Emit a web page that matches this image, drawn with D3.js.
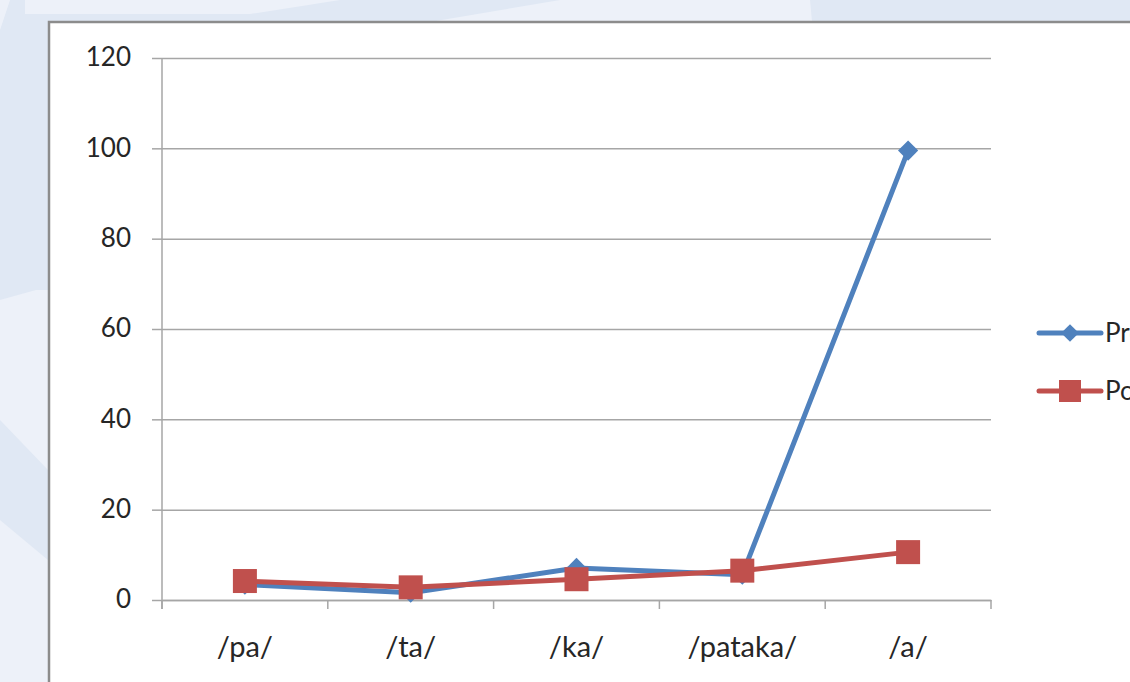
<!DOCTYPE html>
<html>
<head>
<meta charset="utf-8">
<script src="https://cdn.jsdelivr.net/npm/d3@7"></script>
<style>
  html, body { margin: 0; padding: 0; overflow: hidden; background: #e0e8f4; }
  text { font-family: Lato, "Open Sans", sans-serif; }
</style>
</head>
<body>
<div id="chart"></div>
<script>
var categories = ["/pa/", "/ta/", "/ka/", "/pataka/", "/a/"];
var preValues = [3.4, 1.6, 7.1, 5.6, 99.5];
var postValues = [4.2, 2.8, 4.6, 6.5, 10.6];
var yTicks = [0, 20, 40, 60, 80, 100, 120];
var seriesNames = ["Pre", "Post"];

var W = 1130, H = 682;
var plot = {left: 162, right: 991, top: 58, bottom: 600};

var svg = d3.select("#chart").append("svg")
    .attr("width", W)
    .attr("height", H);

// slide background shapes
var bg = svg.append("g");
bg.append("rect").attr("width", W).attr("height", H).attr("fill", "#e0e8f4");
var light = "#edf1f9";
[
  [[25, 0], [340, 0], [250, 14], [85, 14], [25, 14]],
  [[560, 0], [810, 0], [812, 22], [430, 22]],
  [[0, 300], [36, 290], [48, 290], [48, 470], [0, 420]],
  [[0, 520], [48, 560], [48, 682], [0, 682]],
  [[0, 0], [10, 0], [0, 30]]
].forEach(function(p) {
  bg.append("polygon").attr("points", p.join(" ")).attr("fill", light);
});

// chart area
svg.append("rect")
    .attr("x", 49).attr("y", 22)
    .attr("width", W).attr("height", H)
    .attr("fill", "#fff")
    .attr("stroke", "#8c8c8c")
    .attr("stroke-width", 2.5);

var x = d3.scaleBand()
    .domain(categories)
    .range([plot.left, plot.right]);

var y = d3.scaleLinear()
    .domain([0, 120])
    .range([plot.bottom, plot.top]);

// gridlines + y axis
var yAxis = svg.append("g")
    .attr("transform", "translate(" + plot.left + ",0)")
    .call(d3.axisLeft(y).tickValues(yTicks).tickSize(10).tickPadding(21));
yAxis.select(".domain").remove();
yAxis.selectAll(".tick line").attr("stroke", "#a6a6a6").attr("stroke-width", 1.5);
yAxis.selectAll(".tick").append("line")
    .attr("x1", 0).attr("x2", plot.right - plot.left)
    .attr("stroke", "#a6a6a6").attr("stroke-width", 1.5);
yAxis.selectAll("text")
    .attr("font-size", 26).attr("fill", "#262626").attr("dy", "0.3em");

svg.append("line")
    .attr("x1", plot.left).attr("x2", plot.left)
    .attr("y1", plot.top).attr("y2", plot.bottom + 9)
    .attr("stroke", "#a6a6a6").attr("stroke-width", 1.5);

// x axis
var xAxis = svg.append("g")
    .attr("transform", "translate(0," + plot.bottom + ")")
    .call(d3.axisBottom(x).tickSize(0).tickPadding(36));
xAxis.select(".domain").attr("stroke", "#a6a6a6").attr("stroke-width", 1.5);
xAxis.selectAll("text").attr("font-size", 29).attr("fill", "#262626");
xAxis.selectAll(".bound")
    .data(d3.range(categories.length + 1))
    .enter().append("line")
    .attr("x1", function(i) { return plot.left + i * x.step(); })
    .attr("x2", function(i) { return plot.left + i * x.step(); })
    .attr("y1", 0).attr("y2", 9)
    .attr("stroke", "#a6a6a6").attr("stroke-width", 1.5);

var cx = function(d, i) { return x(categories[i]) + x.bandwidth() / 2; };
var line = d3.line()
    .x(cx)
    .y(function(d) { return y(d); });

var blue = "#4f81bd", red = "#c0504d";
var diamond = d3.symbol().type(d3.symbolDiamond2).size(260);

svg.append("path").datum(preValues)
    .attr("d", line).attr("fill", "none")
    .attr("stroke", blue).attr("stroke-width", 5).attr("stroke-linejoin", "round");
svg.selectAll(".pre").data(preValues).enter().append("path")
    .attr("transform", function(d, i) { return "translate(" + cx(d, i) + "," + y(d) + ")"; })
    .attr("d", diamond).attr("fill", blue);

svg.append("path").datum(postValues)
    .attr("d", line).attr("fill", "none")
    .attr("stroke", red).attr("stroke-width", 5).attr("stroke-linejoin", "round");
svg.selectAll(".post").data(postValues).enter().append("rect")
    .attr("x", function(d, i) { return cx(d, i) - 12; })
    .attr("y", function(d) { return y(d) - 12; })
    .attr("width", 24).attr("height", 24)
    .attr("fill", red);

// legend (clipped by the page edge, as in the original slide)
var legend = svg.append("g").attr("transform", "translate(1039,333)");
seriesNames.forEach(function(name, i) {
  var g = legend.append("g").attr("transform", "translate(0," + i * 58 + ")");
  var c = i === 0 ? blue : red;
  g.append("line").attr("x1", 0).attr("x2", 62)
      .attr("stroke", c).attr("stroke-width", 5).attr("stroke-linecap", "round");
  if (i === 0) {
    g.append("path").attr("transform", "translate(31,0)").attr("d", d3.symbol().type(d3.symbolDiamond2).size(200)).attr("fill", c);
  } else {
    g.append("rect").attr("x", 20).attr("y", -11).attr("width", 22).attr("height", 22).attr("fill", c);
  }
  g.append("text").attr("x", 66).attr("y", 9)
      .attr("font-size", 26).attr("fill", "#262626").text(name);
});
</script>
</body>
</html>
